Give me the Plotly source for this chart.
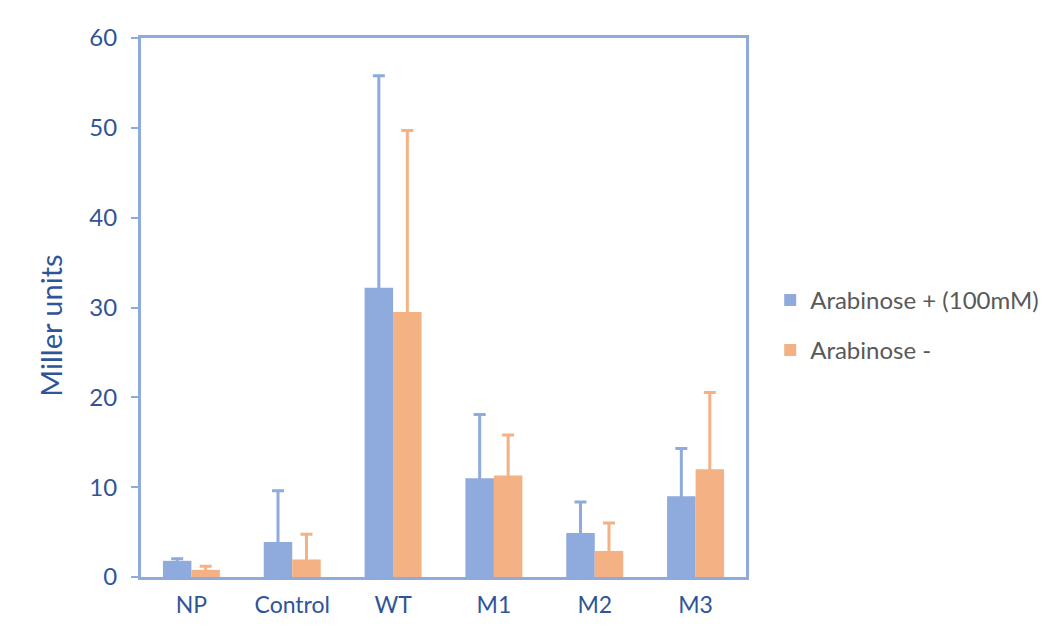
import plotly.graph_objects as go

categories = ["NP", "Control", "WT", "M1", "M2", "M3"]
arab_plus = [1.8, 3.9, 32.2, 11.0, 4.9, 9.0]
arab_plus_err = [0.23, 5.7, 23.6, 7.1, 3.45, 5.3]
arab_minus = [0.8, 1.95, 29.5, 11.3, 2.9, 12.0]
arab_minus_err = [0.4, 2.8, 20.2, 4.5, 3.1, 8.55]
series_names = ["Arabinose + (100mM)", "Arabinose -"]
y_title = "Miller units"

blue = "#8faadc"
orange = "#f4b183"
text_blue = "#2f5597"
font_family = "Lato, Open Sans, sans-serif"

fig = go.Figure()
for name, vals, errs, col, grp in [
    (series_names[0], arab_plus, arab_plus_err, blue, "a"),
    (series_names[1], arab_minus, arab_minus_err, orange, "b"),
]:
    fig.add_trace(go.Bar(
        x=categories, y=vals, name=name, legendgroup=grp,
        marker=dict(color=col, line=dict(width=0)),
        error_y=dict(type="data", array=errs, arrayminus=vals,
                     symmetric=False, color=col, thickness=3, width=6),
    ))

fig.add_annotation(
    text=y_title, textangle=-90, xref="paper", yref="paper",
    x=-0.149, y=0.466, xanchor="center", yanchor="middle", showarrow=False,
    font=dict(size=29, color=text_blue, family=font_family),
)

fig.update_layout(
    width=1051, height=626,
    margin=dict(l=133, r=313, t=30, b=57),
    paper_bgcolor="white", plot_bgcolor="white",
    barmode="group", bargap=0.435, bargroupgap=0,
    font=dict(family=font_family, color=text_blue),
    showlegend=True,
    legend=dict(x=1.04, xanchor="left", y=0.467, yanchor="middle",
                font=dict(size=24, color="#595959", family=font_family),
                traceorder="grouped", tracegroupgap=16,
                bgcolor="rgba(0,0,0,0)"),
    xaxis=dict(showline=True, linecolor=blue, linewidth=3, mirror=True,
               ticks="", tickfont=dict(size=23, color=text_blue),
               ticklabelstandoff=5,
               showgrid=False, zeroline=False, layer="below traces"),
    yaxis=dict(range=[0, 60], dtick=10, showline=True, linecolor=blue,
               linewidth=3, mirror=True, ticks="outside", ticklen=7,
               tickwidth=2, tickcolor=blue, showgrid=False, zeroline=False,
               ticklabelstandoff=9, layer="below traces",
               tickfont=dict(size=24, color=text_blue)),
)

fig.write_html("out.html")
